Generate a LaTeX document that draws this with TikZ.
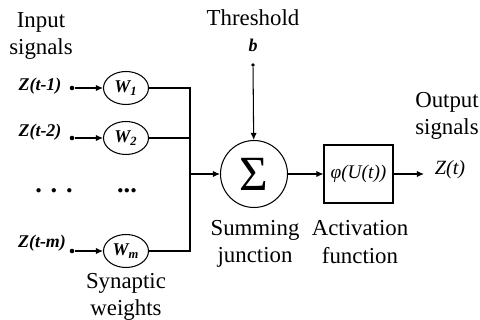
\documentclass[tikz,border=0pt]{standalone}
\usepackage{fontspec}
\setmainfont{Liberation Serif}
\usetikzlibrary{shapes.geometric,arrows.meta}

\begin{document}
\begin{tikzpicture}[x=0.02cm,y=-0.02cm,line width=0.6pt]
\def \busx {190}
   \tikzset{WeightStyle/.style = {shape = ellipse,draw,minimum width = 0.9cm,minimum height = 0.66cm, inner sep = 0pt},
            SumStyle/.style = {shape = circle,draw,minimum size = 1.34cm, inner sep = 0pt},
            BoxStyle/.style = {shape = rectangle,draw,minimum width = 1.38cm,minimum height = 1.16cm, inner sep = 0pt},
            TextStyle/.style = {align = center,font = \fontsize{13}{15.5}\selectfont},
            SigStyle/.style = {font = \fontsize{10.2}{12}\selectfont\bfseries\itshape},
            InDot/.style = {circle,fill = black,minimum size = 2.6pt, inner sep = 0pt},
            ArrowStyle/.style = {-{Latex[length=4pt,width=3.5pt]}}}
   \useasboundingbox (0,0) rectangle (480,320);

   \node[TextStyle] (insig) at (41,36) {Input\\signals};
   \node[SigStyle] (z1) at (40,86) {Z(t-1)};
   \node[SigStyle] (z2) at (40,132) {Z(t-2)};
   \node[SigStyle] (zm) at (42,243) {Z(t-m)};
   \node[InDot] (d1) at (72,88) {};
   \node[InDot] (d2) at (72,138) {};
   \node[InDot] (dm) at (72,251) {};
   \node[font = \fontsize{15}{15}\selectfont\bfseries] (dots1) at (54,191) {.\,\,.\,\,.};
   \node[font = \fontsize{15}{15}\selectfont\bfseries] (dots2) at (127,191) {...};

   \node[WeightStyle, SigStyle] (w1) at (126,88) {W\textsubscript{1}};
   \node[WeightStyle, SigStyle] (w2) at (126,138) {W\textsubscript{2}};
   \node[WeightStyle, SigStyle] (wm) at (126,251) {W\textsubscript{m}};
   \node[TextStyle] (syn) at (126,297) {Synaptic\\weights};

   \coordinate (b1) at (\busx,88);
   \coordinate (b2) at (\busx,138);
   \coordinate (bs) at (\busx,174);
   \coordinate (bm) at (\busx,251);

   \node[SumStyle, font = \fontsize{28}{28}\selectfont] (sum) at (254,174) {Σ};
   \node[TextStyle] (thr) at (253,18) {Threshold};
   \node[SigStyle] (b) at (253,45) {b};
   \node[InDot, minimum size = 2.2pt] (db) at (253,65) {};
   \node[TextStyle] (sj) at (255,244) {Summing\\junction};

   \node[BoxStyle, font = \fontsize{11}{12}\selectfont\itshape] (act) at (358.5,174) {φ(U(t))};
   \node[TextStyle] (af) at (360,242) {Activation\\function};
   \coordinate (out) at (424,174);
   \node[font = \fontsize{11.5}{12}\selectfont\itshape] (zt) at (450,170) {Z(t)};
   \node[TextStyle] (outsig) at (447,116) {Output\\signals};

   \draw[ArrowStyle] (d1) -- (w1);
   \draw[ArrowStyle] (d2) -- (w2);
   \draw[ArrowStyle] (dm) -- (wm);
   \draw (w1) -- (b1) -- (bm) -- (wm);
   \draw (w2) -- (b2);
   \draw[ArrowStyle] (bs) -- (sum);
   \draw[ArrowStyle] (db) -- (sum);
   \draw[ArrowStyle] (sum) -- (act);
   \draw[ArrowStyle] (act) -- (out);

\end{tikzpicture}
\end{document}
